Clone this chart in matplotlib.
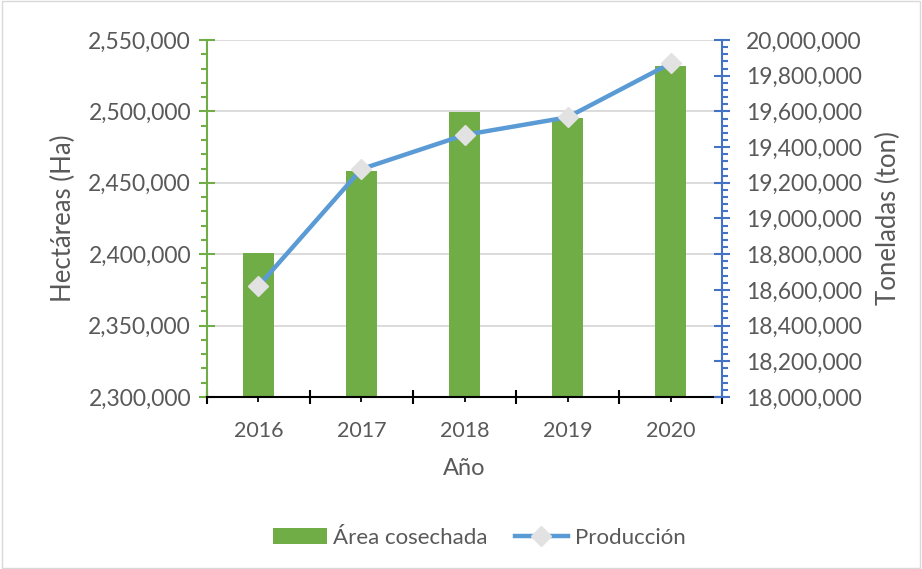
import matplotlib
matplotlib.use("Agg")
import matplotlib.pyplot as plt
from matplotlib.ticker import MultipleLocator, StrMethodFormatter, FixedLocator
from matplotlib.lines import Line2D
from matplotlib.patches import Patch, Rectangle

plt.rcParams["font.family"] = ["Lato", "DejaVu Sans"]

years = ["2016", "2017", "2018", "2019", "2020"]
area_ha = [2401000, 2458300, 2499400, 2495400, 2532000]
produccion_ton = [18622000, 19277000, 19468000, 19567000, 19869000]

TEXT = "#595959"
GREEN = "#70AD47"
BLUE = "#5B9BD5"
AXIS_BLUE = "#4472C4"

fig = plt.figure(figsize=(9.22, 5.69), dpi=100)
ax = fig.add_axes([0.2245, 0.3023, 0.5586, 0.6274])
ax2 = ax.twinx()

x = list(range(len(years)))

# bars (left axis)
ax.bar(x, area_ha, width=0.31, color=GREEN, zorder=2)
ax.set_ylim(2300000, 2550000)
ax.set_xlim(-0.5, len(years) - 0.5)
ax.yaxis.set_major_locator(MultipleLocator(50000))
ax.yaxis.set_minor_locator(MultipleLocator(10000))
ax.yaxis.set_major_formatter(StrMethodFormatter("{x:,.0f}"))
ax.grid(axis="y", color="#D9D9D9", linewidth=1.3)
ax.set_axisbelow(True)

# line (right axis)
ax2.plot(x, produccion_ton, color=BLUE, linewidth=3.2, marker="D", markersize=10,
         markerfacecolor="#E2E2E2", markeredgecolor="#E2E2E2", zorder=3)
ax2.set_ylim(18000000, 20000000)
ax2.yaxis.set_major_locator(MultipleLocator(200000))
ax2.yaxis.set_minor_locator(MultipleLocator(40000))
ax2.yaxis.set_major_formatter(StrMethodFormatter("{x:,.0f}"))

# x ticks: categories + boundary ticks
ax.set_xticks(x)
ax.set_xticklabels(years)
ax.xaxis.set_minor_locator(FixedLocator([i - 0.5 for i in range(len(years) + 1)]))
ax.tick_params(axis="x", which="major", direction="out", length=3.5, width=1.3,
               colors="black", labelcolor=TEXT, labelsize=15.5, pad=14)
ax.tick_params(axis="x", which="minor", direction="inout", length=10, width=1.5, colors="black")

ax.tick_params(axis="y", which="major", direction="inout", length=11, width=1.5,
               colors=GREEN, labelcolor=TEXT, labelsize=16.5, pad=6)
ax.tick_params(axis="y", which="minor", direction="out", length=4, width=1.5, colors=GREEN)
ax2.tick_params(axis="y", which="major", direction="inout", length=11, width=1.5,
                colors=AXIS_BLUE, labelcolor=TEXT, labelsize=16.5, pad=12)
ax2.tick_params(axis="y", which="minor", direction="out", length=4, width=1.5, colors=AXIS_BLUE)

for a in (ax, ax2):
    a.spines["top"].set_visible(False)
ax.spines["right"].set_visible(False)
ax2.spines["left"].set_visible(False)
ax2.spines["bottom"].set_visible(False)
ax.spines["left"].set_color(GREEN)
ax.spines["left"].set_linewidth(1.5)
ax2.spines["right"].set_color(AXIS_BLUE)
ax2.spines["right"].set_linewidth(1.5)
ax.spines["bottom"].set_color("black")
ax.spines["bottom"].set_linewidth(1.5)

ax.set_xlabel("Año", color=TEXT, fontsize=17, labelpad=12)
ax.set_ylabel("Hectáreas (Ha)", color=TEXT, fontsize=18.5)
ax.yaxis.set_label_coords(-0.255, 0.5)
ax2.set_ylabel("Toneladas (ton)", color=TEXT, fontsize=18.5, labelpad=10)

handles = [
    Patch(facecolor=GREEN, label="Área cosechada"),
    Line2D([0], [0], color=BLUE, linewidth=3.2, marker="D", markersize=10,
           markerfacecolor="#E2E2E2", markeredgecolor="#E2E2E2", label="Producción"),
]
fig.legend(handles=handles, loc="center", bbox_to_anchor=(0.52, 0.055), ncol=2,
           frameon=False, fontsize=16, labelcolor=TEXT, handlelength=2.4,
           handleheight=0.75, columnspacing=1.2, handletextpad=0.3)

fig.patches.append(Rectangle((0.002, 0.002), 0.996, 0.996, transform=fig.transFigure,
                             fill=False, edgecolor="#D9D9D9", linewidth=1))

fig.savefig("out.png", dpi=100)
